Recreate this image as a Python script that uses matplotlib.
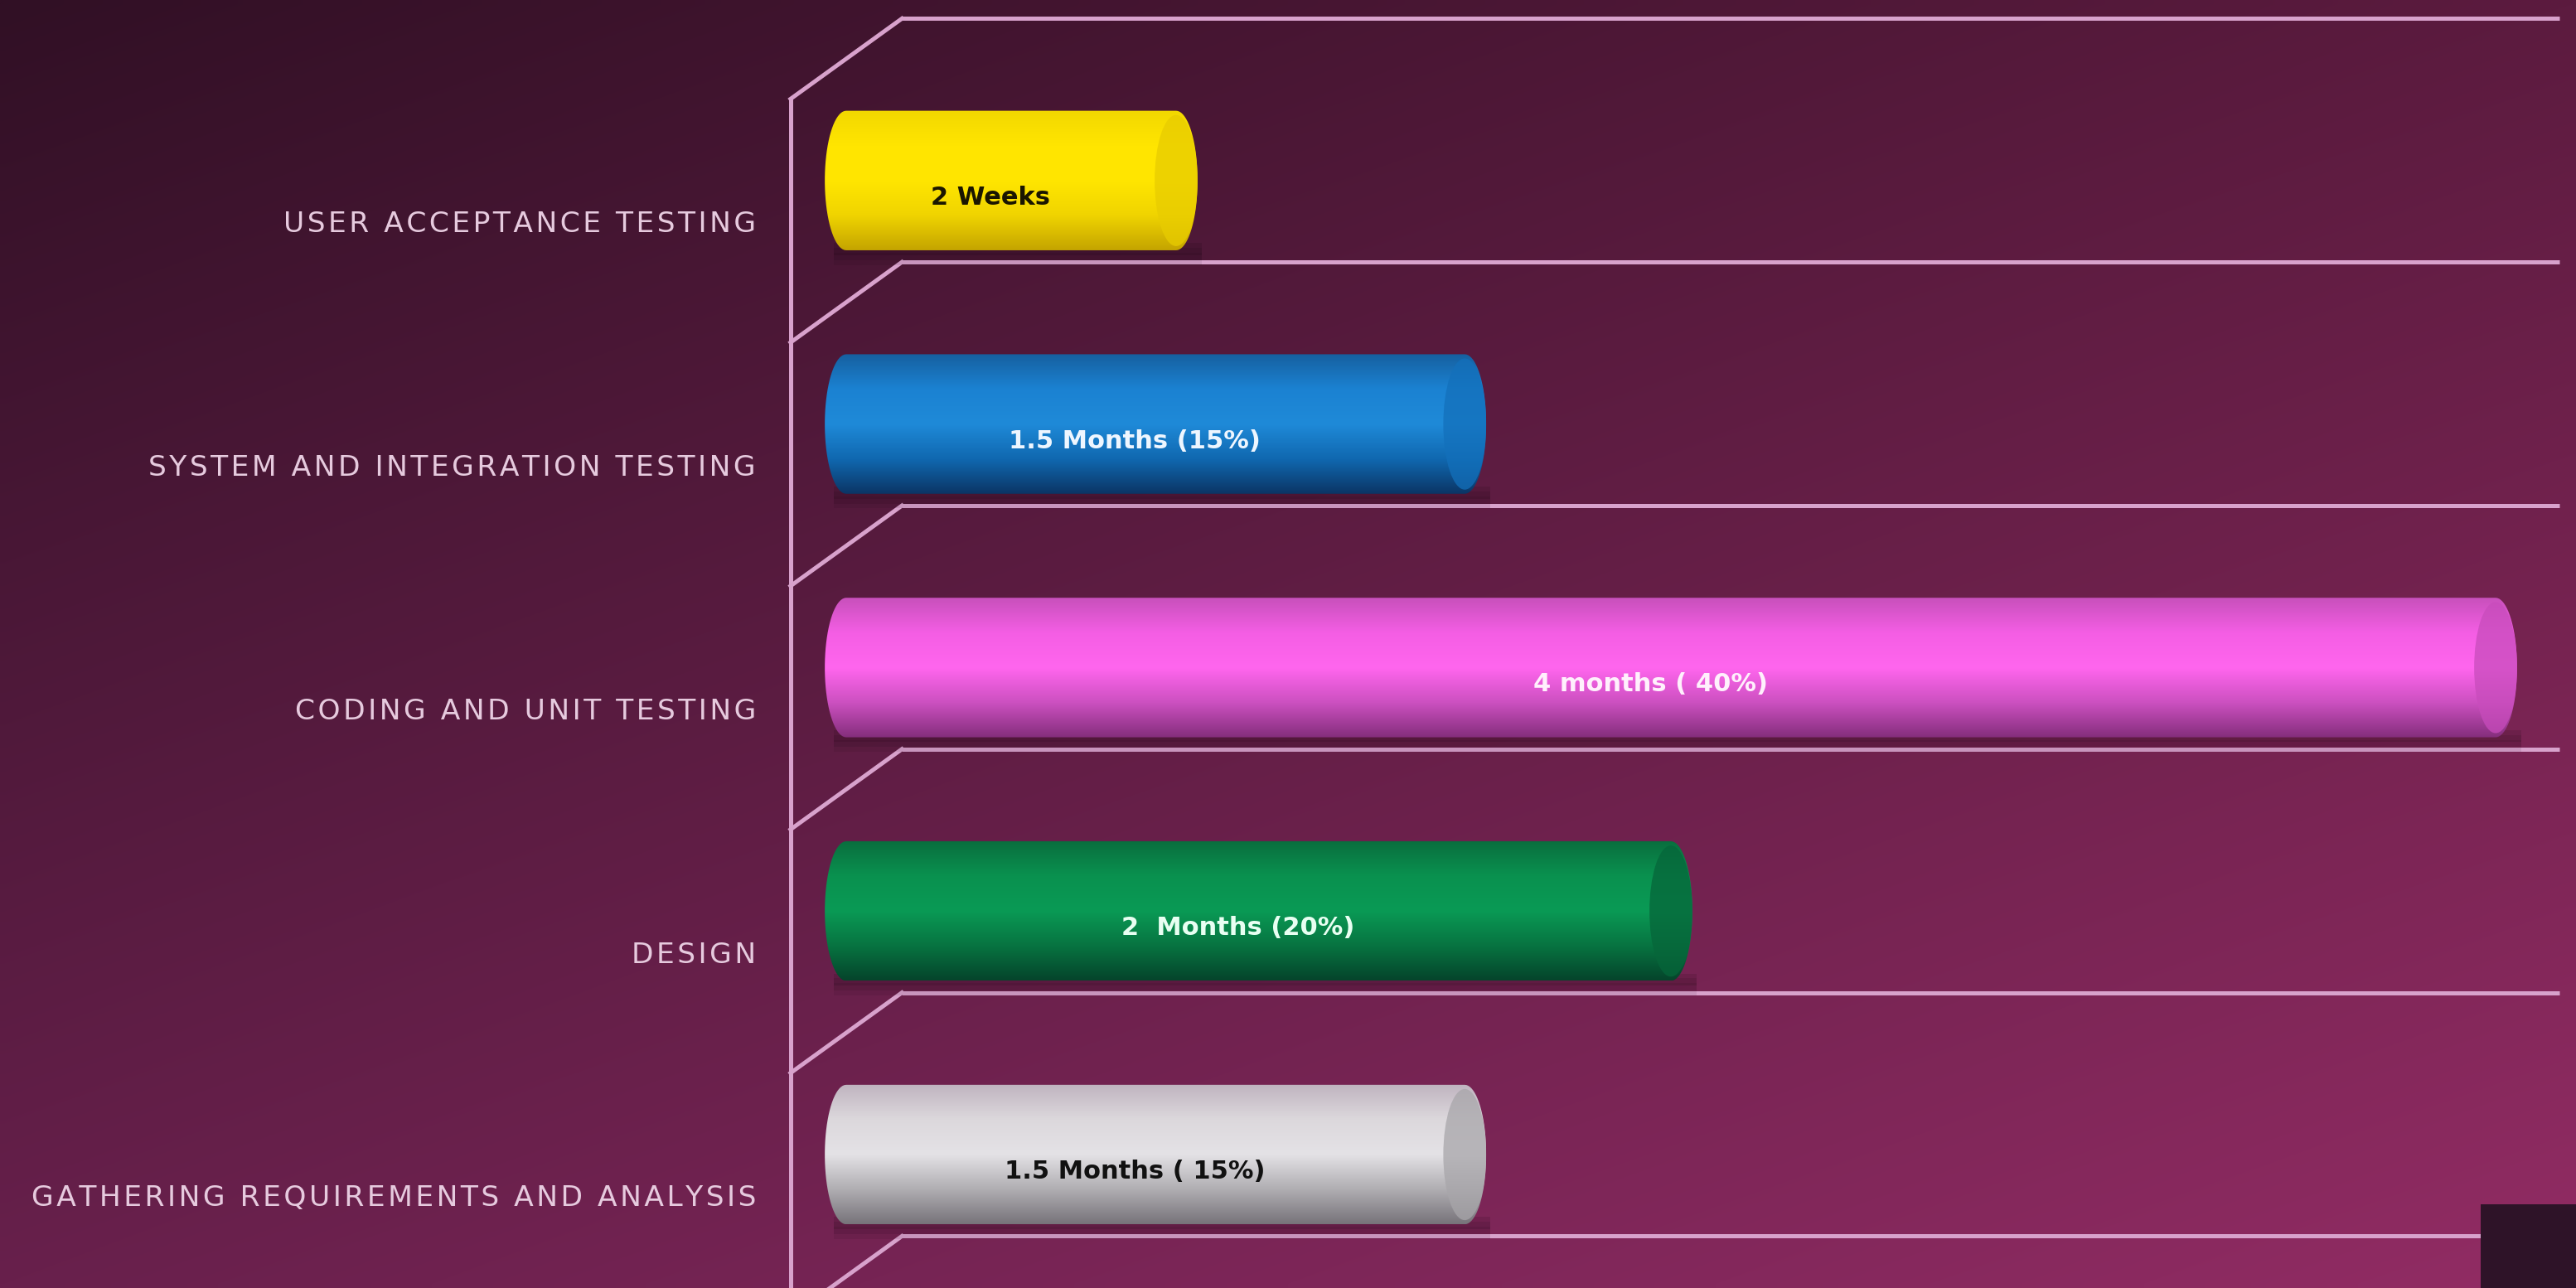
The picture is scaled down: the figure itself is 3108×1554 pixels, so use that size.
import numpy as np
import matplotlib
matplotlib.use("Agg")
import matplotlib.pyplot as plt
from matplotlib.colors import LinearSegmentedColormap
from matplotlib.patches import Ellipse, PathPatch, Rectangle
from matplotlib.path import Path

# ---------------- data ----------------
categories = ["GATHERING REQUIREMENTS AND ANALYSIS", "DESIGN", "CODING AND UNIT TESTING",
              "SYSTEM AND INTEGRATION TESTING", "USER ACCEPTANCE TESTING"]
durations_months = [1.5, 2.0, 4.0, 1.5, 0.8]
bar_labels = ["1.5 Months ( 15%)", "2  Months (20%)", "4 months ( 40%)",
              "1.5 Months (15%)", "2 Weeks"]

# ---------------- style ----------------
bar_shades = [  # bottom -> top of cylinder
    ["#77737a", "#b0aeb2", "#e4e2e6", "#dcd8dc", "#c0b4c0"],
    ["#05442b", "#077441", "#0a9a55", "#09914f", "#0a6e3e"],
    ["#842e7c", "#cc50c0", "#ff66ee", "#f45ee4", "#c850bc"],
    ["#0b3565", "#1068b0", "#1f8ad8", "#1b82d2", "#1660a0"],
    ["#c4a400", "#f0d400", "#ffe600", "#ffe500", "#f2d800"],
]
cap_colors = ["#a8a6aa", "#06663a", "#c84cbc", "#1370bb", "#e8cc00"]
text_colors = ["#111111", "#e8fff2", "#fff0fc", "#eef6ff", "#1a1600"]
label_color = "#e6cade"
line_color = "#d8a2cc"

W, H = 3108, 1554
fig = plt.figure(figsize=(W / 100, H / 100), dpi=100)
ax = fig.add_axes([0, 0, 1, 1])
x0_px, px_per_month = 1021.0, 497.5
y0_px, px_per_cat = 1393.0, 293.8
xlim = (-x0_px / px_per_month, (W - x0_px) / px_per_month)
ylim = ((y0_px - H) / px_per_cat, y0_px / px_per_cat)
ax.set_xlim(*xlim)
ax.set_ylim(*ylim)
ax.axis("off")

# background gradient
gx = np.linspace(0, 1, 300)
gy = np.linspace(0, 1, 150)
GX, GY = np.meshgrid(gx, gy)  # GY=0 bottom
tl = np.array([0x31, 0x10, 0x25]) / 255
tr = np.array([0x5c, 0x1b, 0x3f]) / 255
bl = np.array([0x68, 0x20, 0x4c]) / 255
br = np.array([0x92, 0x2c, 0x64]) / 255
bg = (tl[None, None] * ((1 - GX) * GY)[..., None] + tr[None, None] * (GX * GY)[..., None]
      + bl[None, None] * ((1 - GX) * (1 - GY))[..., None] + br[None, None] * (GX * (1 - GY))[..., None])
ax.imshow(bg, extent=[xlim[0], xlim[1], ylim[0], ylim[1]], origin="lower",
          aspect="auto", zorder=0, interpolation="bilinear")

# 3D frame lines
wall_x, back_x, right_x = -0.135, 0.135, 4.155
lw = 3.6
n = len(categories)
ax.plot([wall_x, wall_x], [ylim[0], n - 0.665], color=line_color, lw=lw, zorder=1,
        solid_capstyle="butt")
for k in range(n + 1):
    yb = k - 0.335
    yf = k - 0.665
    ax.plot([wall_x, back_x], [yf, yb], color=line_color, lw=lw, zorder=1)
    ax.plot([back_x, right_x], [yb, yb], color=line_color, lw=lw, zorder=1,
            solid_capstyle="butt")

# cylinders
h = 0.2865
w = 0.052
for i, (v, shades) in enumerate(zip(durations_months, bar_shades)):
    yc = i
    # soft shadow beneath
    for j, a in enumerate([0.12, 0.10, 0.08]):
        ax.add_patch(Rectangle((-0.03, yc - h - 0.02 - 0.02 * j), v + w + 0.04, 0.05,
                               facecolor="#14040e", alpha=a, lw=0, zorder=2))
    t = np.linspace(0, np.pi, 40)
    right = np.column_stack([v + w * np.sin(t), yc - h * np.cos(t)])
    left = np.column_stack([0 - w * np.sin(t), yc + h * np.cos(t)])
    verts = np.vstack([right, left, right[:1]])
    path = Path(verts)
    clip = PathPatch(path, facecolor="none", edgecolor="none", transform=ax.transData)
    ax.add_patch(clip)
    cmap = LinearSegmentedColormap.from_list("c%d" % i, shades)
    grad = np.linspace(0, 1, 256)[:, None]
    im = ax.imshow(grad, cmap=cmap, extent=[-w, v + w, yc - h, yc + h], origin="lower",
                   aspect="auto", zorder=3, interpolation="bilinear")
    im.set_clip_path(clip)
    ax.add_patch(Ellipse((v, yc), 2 * w, 2 * h * 0.94, facecolor=cap_colors[i],
                         edgecolor="none", alpha=0.75, zorder=4))
    ax.text(v / 2 - 0.05, yc - 0.07, bar_labels[i], ha="center", va="center",
            fontsize=22, fontweight="bold", color=text_colors[i],
            family="DejaVu Sans", zorder=5)

# category labels
for i, c in enumerate(categories):
    spaced = "\u200a".join(c)
    ax.text(-0.219, i - 0.18, spaced, ha="right", va="center", fontsize=24.8,
            color=label_color, zorder=5)

# corner box
ax.add_patch(Rectangle((xlim[1] - 115 / px_per_month, ylim[0]), 115 / px_per_month,
                       101 / px_per_cat, facecolor="#2e1328", lw=0, zorder=6))

fig.savefig("out.png", dpi=100)
